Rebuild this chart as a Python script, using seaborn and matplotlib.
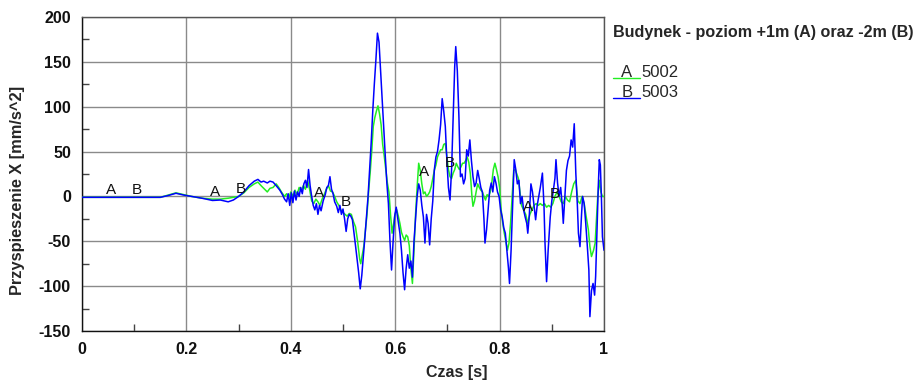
import numpy as np
import pandas as pd
import matplotlib
matplotlib.use("Agg")
import matplotlib.pyplot as plt
from matplotlib.lines import Line2D
from matplotlib.ticker import MultipleLocator
import seaborn as sns

# ---- data ----
t_b = [0.000, 0.150, 0.165, 0.180, 0.195, 0.210, 0.230, 0.250, 0.265, 0.280, 0.290, 0.300, 0.310, 0.320,
       0.330, 0.337, 0.343, 0.348, 0.355, 0.360, 0.366, 0.372, 0.379, 0.384, 0.388, 0.392, 0.395, 0.398,
       0.401, 0.404, 0.407, 0.410, 0.413, 0.416, 0.419, 0.422, 0.425, 0.428, 0.431, 0.434, 0.437, 0.440,
       0.443, 0.446, 0.449, 0.452, 0.455, 0.458, 0.462, 0.466, 0.469, 0.472, 0.475, 0.478, 0.481, 0.484,
       0.488, 0.491, 0.494, 0.497, 0.500, 0.503, 0.506, 0.509, 0.512, 0.515, 0.518, 0.521, 0.524, 0.527,
       0.530, 0.533, 0.536, 0.539, 0.542, 0.545, 0.548, 0.551, 0.554, 0.557, 0.560, 0.563, 0.566, 0.569,
       0.572, 0.575, 0.578, 0.581, 0.584, 0.587, 0.590, 0.593, 0.596, 0.599, 0.602, 0.605, 0.609, 0.612,
       0.615, 0.618, 0.621, 0.624, 0.627, 0.630, 0.633, 0.636, 0.639, 0.642, 0.645, 0.648, 0.651, 0.654,
       0.657, 0.660, 0.663, 0.666, 0.669, 0.672, 0.675, 0.678, 0.681, 0.684, 0.687, 0.690, 0.693, 0.696,
       0.699, 0.702, 0.705, 0.708, 0.711, 0.714, 0.716, 0.719, 0.722, 0.725, 0.728, 0.731, 0.734, 0.737,
       0.740, 0.743, 0.746, 0.749, 0.752, 0.755, 0.758, 0.761, 0.764, 0.767, 0.770, 0.772, 0.775, 0.778,
       0.781, 0.784, 0.787, 0.790, 0.793, 0.796, 0.799, 0.802, 0.805, 0.808, 0.811, 0.814, 0.817, 0.819,
       0.822, 0.825, 0.828, 0.831, 0.834, 0.837, 0.840, 0.843, 0.846, 0.849, 0.852, 0.854, 0.857, 0.860,
       0.863, 0.866, 0.869, 0.872, 0.875, 0.878, 0.882, 0.885, 0.887, 0.890, 0.893, 0.897, 0.900, 0.903,
       0.906, 0.908, 0.911, 0.914, 0.917, 0.920, 0.922, 0.925, 0.928, 0.931, 0.934, 0.937, 0.940, 0.943,
       0.946, 0.949, 0.951, 0.954, 0.957, 0.959, 0.962, 0.965, 0.968, 0.971, 0.973, 0.976, 0.979, 0.982,
       0.984, 0.987, 0.989, 0.991, 0.993, 0.995, 0.997, 1.000]
b_5003 = [-1, -1, 1, 3.5, 1.5, 0, -2, -4.5, -4, -6, -4, 0, 5, 12,
          17, 19, 16, 17, 15, 17, 16, 12, 7, 2, -3, -6, 3, -10,
          4, -7, 6, -4, 5, 0, 10, 3, 14, 18, 10, 30, 12, 0,
          -10, -15, -8, -20, -10, -16, -5, 2, 10, 12, 22, 8, 3, -6,
          -11, -18, -10, -20, -14, -25, -39, -25, -20, -22, -26, -40, -55, -70,
          -85, -103, -88, -67, -45, -23, 0, 30, 60, 95, 125, 152, 182, 172,
          140, 107, 75, 45, 15, -8, -50, -82, -50, -22, -12, -25, -41, -60,
          -85, -104, -80, -65, -80, -72, -90, -50, -25, 0, 14, 7, -10, -23,
          -52, -20, -30, -54, -25, -5, 30, 44, 50, 63, 80, 109, 95, 78,
          40, 10, -4, 30, 89, 145, 167, 140, 90, 22, 25, 14, 20, 52,
          45, 63, 40, 22, 11, 15, 29, 20, 10, 5, -25, -52, -37, -15,
          7, 15, 5, 22, 15, 5, 0, -15, -23, -35, -41, -60, -80, -97,
          -60, -10, 41, 30, 14, 18, -8, 0, -15, -23, -30, -41, -20, 14,
          5, -10, -26, -10, 0, 10, 26, -10, -52, -95, -60, -23, -5, 7,
          20, 41, 15, 0, 10, -10, -30, 0, 29, 40, 45, 63, 55, 81,
          26, -10, -41, -56, -20, 0, -8, -30, -55, -82, -134, -105, -97, -110,
          -89, -30, 10, 41, 35, 0, -45, -60]

t_a = [0.000, 0.150, 0.165, 0.180, 0.195, 0.210, 0.230, 0.250, 0.265, 0.280, 0.290, 0.300, 0.310, 0.320,
       0.330, 0.337, 0.343, 0.350, 0.355, 0.360, 0.366, 0.372, 0.377, 0.382, 0.388, 0.392, 0.396, 0.400,
       0.404, 0.408, 0.412, 0.416, 0.420, 0.424, 0.428, 0.432, 0.436, 0.440, 0.444, 0.448, 0.452, 0.456,
       0.460, 0.464, 0.468, 0.472, 0.476, 0.480, 0.484, 0.488, 0.492, 0.496, 0.500, 0.504, 0.508, 0.512,
       0.516, 0.520, 0.524, 0.528, 0.532, 0.534, 0.537, 0.540, 0.543, 0.546, 0.549, 0.552, 0.555, 0.558,
       0.561, 0.564, 0.567, 0.570, 0.573, 0.576, 0.579, 0.582, 0.585, 0.588, 0.591, 0.594, 0.597, 0.600,
       0.603, 0.606, 0.609, 0.612, 0.615, 0.618, 0.621, 0.624, 0.627, 0.630, 0.633, 0.636, 0.639, 0.642,
       0.645, 0.648, 0.651, 0.654, 0.657, 0.660, 0.663, 0.666, 0.669, 0.672, 0.675, 0.678, 0.681, 0.684,
       0.687, 0.690, 0.693, 0.696, 0.699, 0.702, 0.705, 0.708, 0.711, 0.714, 0.717, 0.720, 0.723, 0.726,
       0.729, 0.732, 0.735, 0.738, 0.741, 0.744, 0.747, 0.749, 0.752, 0.755, 0.758, 0.761, 0.764, 0.767,
       0.770, 0.773, 0.776, 0.779, 0.782, 0.785, 0.788, 0.791, 0.794, 0.797, 0.800, 0.803, 0.806, 0.809,
       0.812, 0.815, 0.818, 0.821, 0.824, 0.827, 0.830, 0.833, 0.836, 0.839, 0.842, 0.846, 0.850, 0.854,
       0.858, 0.862, 0.866, 0.870, 0.874, 0.878, 0.882, 0.886, 0.890, 0.894, 0.898, 0.902, 0.906, 0.910,
       0.914, 0.918, 0.922, 0.926, 0.930, 0.934, 0.938, 0.942, 0.946, 0.950, 0.954, 0.958, 0.962, 0.966,
       0.970, 0.973, 0.976, 0.980, 0.983, 0.986, 0.988, 0.991, 0.994, 0.997, 1.000]
a_5002 = [-1, -1, 1.5, 4, 2, 0, -2, -3, -3, -2, -1, 0, 4, 10,
          14, 16, 12, 8, 5, 9, 10, 14, 10, 5, 0, 3, -2, 5,
          0, 7, 2, 10, 6, 12, 8, 18, 8, -5, -8, -3, -6, -10,
          -3, 2, 8, 12, 6, 5, 0, -6, -10, -15, -18, -20, -22, -19,
          -20, -28, -34, -50, -70, -75, -65, -55, -38, -20, 5, 26, 50, 78,
          88, 95, 101, 92, 80, 58, 45, 30, 15, 5, -20, -41, -30, -19,
          -15, -22, -30, -40, -45, -49, -43, -45, -55, -80, -97, -60, -20, 10,
          37, 29, 14, 3, 5, 0, 2, 5, 11, 20, 29, 35, 44, 48,
          52, 52, 58, 59, 45, 30, 22, 20, 26, 30, 37, 33, 30, 33,
          37, 37, 40, 44, 38, 25, 0, -11, -5, 5, 14, 10, 7, 5,
          0, -4, 2, 0, 5, 15, 30, 37, 30, 22, 10, -15, -30, -41,
          -50, -60, -52, -30, 0, 29, 30, 25, 20, 5, -10, -15, -20, -30,
          -20, -15, -10, -8, -10, -8, -10, -8, -12, -10, -12, -8, 0, 5,
          0, -6, -8, 0, -4, -6, 5, 14, 18, -5, -8, 0, -8, -23,
          -37, -56, -67, -60, -52, -20, 0, 18, 5, 0, 0]

series_names = ["5002", "5003"]
series_letters = ["A", "B"]
series_colors = ["#22ee22", "#0000ff"]
label_times_a = [0.05, 0.25, 0.45, 0.65, 0.85]
label_times_b = [0.10, 0.30, 0.50, 0.70, 0.90]
x_ticks = [0, 0.2, 0.4, 0.6, 0.8, 1]
x_tick_labels = ["0", "0.2", "0.4", "0.6", "0.8", "1"]
y_ticks = [-150, -100, -50, 0, 50, 100, 150, 200]
title_text = "Budynek - poziom +1m (A) oraz -2m (B)"
x_label = "Czas [s]"
y_label = "Przyspieszenie X [mm/s^2]"

# ---- figure ----
sns.set_theme(style="white")
plt.rcParams["font.family"] = ["Liberation Sans", "DejaVu Sans"]
plt.rcParams["axes.unicode_minus"] = False

W, H = 918, 380
fig = plt.figure(figsize=(W / 100, H / 100), dpi=100)
ax = fig.add_axes([82 / W, 1 - 331 / H, (604 - 82) / W, (331 - 17) / H])

df_a = pd.DataFrame({"t": t_a, "v": a_5002})
df_b = pd.DataFrame({"t": t_b, "v": b_5003})
sns.lineplot(data=df_a, x="t", y="v", ax=ax, color=series_colors[0], lw=1.1,
             estimator=None, sort=False, zorder=3)
sns.lineplot(data=df_b, x="t", y="v", ax=ax, color=series_colors[1], lw=1.1,
             estimator=None, sort=False, zorder=4)

for tt in label_times_a:
    ax.text(tt + 0.005, np.interp(tt, t_a, a_5002), "A", ha="center", va="bottom",
            fontsize=11, color="#111111", zorder=6)
for tt in label_times_b:
    ax.text(tt + 0.005, np.interp(tt, t_b, b_5003), "B", ha="center", va="bottom",
            fontsize=11, color="#111111", zorder=6)

ax.set_xlim(0, 1)
ax.set_ylim(-150, 200)
ax.set_xticks(x_ticks)
ax.set_xticklabels(x_tick_labels)
ax.set_yticks(y_ticks)
ax.xaxis.set_minor_locator(MultipleLocator(0.1))
ax.yaxis.set_minor_locator(MultipleLocator(25))
ax.grid(True, which="major", color="#8a8a8a", lw=1.0, zorder=0)
ax.set_axisbelow(True)
ax.tick_params(axis="both", which="major", direction="out", length=5, width=1,
               color="#222222", labelsize=11.5, pad=3, labelcolor="#111111")
ax.tick_params(axis="both", which="minor", direction="in", length=5, width=1,
               color="#444444", bottom=True, left=True)
for lab in ax.get_xticklabels() + ax.get_yticklabels():
    lab.set_fontweight("bold")
for s in ["left", "bottom"]:
    ax.spines[s].set_color("#111111")
    ax.spines[s].set_linewidth(1.0)
for s in ["top", "right"]:
    ax.spines[s].set_color("#555555")
    ax.spines[s].set_linewidth(1.0)
ax.set_xlabel("")
ax.set_ylabel("")

fig.text(457 / W, 1 - 372 / H, x_label, ha="center", va="center", fontsize=11.5, fontweight="bold")
fig.text(18 / W, 1 - 190 / H, y_label, ha="center", va="center", rotation=90,
         fontsize=11.8, fontweight="bold")

# legend
fig.text(613 / W, 1 - 32 / H, title_text, ha="left", va="center", fontsize=11.6, fontweight="bold")
for i, (name, letter, col) in enumerate(zip(series_names, series_letters, series_colors)):
    yb = 78 + 20 * i
    fig.add_artist(Line2D([613 / W, 640 / W], [1 - yb / H, 1 - yb / H], color=col, lw=1.0))
    fig.text(627 / W, 1 - (yb - 1) / H, letter, ha="center", va="baseline", fontsize=12)
    fig.text(641 / W, 1 - (yb - 1) / H, name, ha="left", va="baseline", fontsize=12)

fig.savefig("out.png", dpi=100)
